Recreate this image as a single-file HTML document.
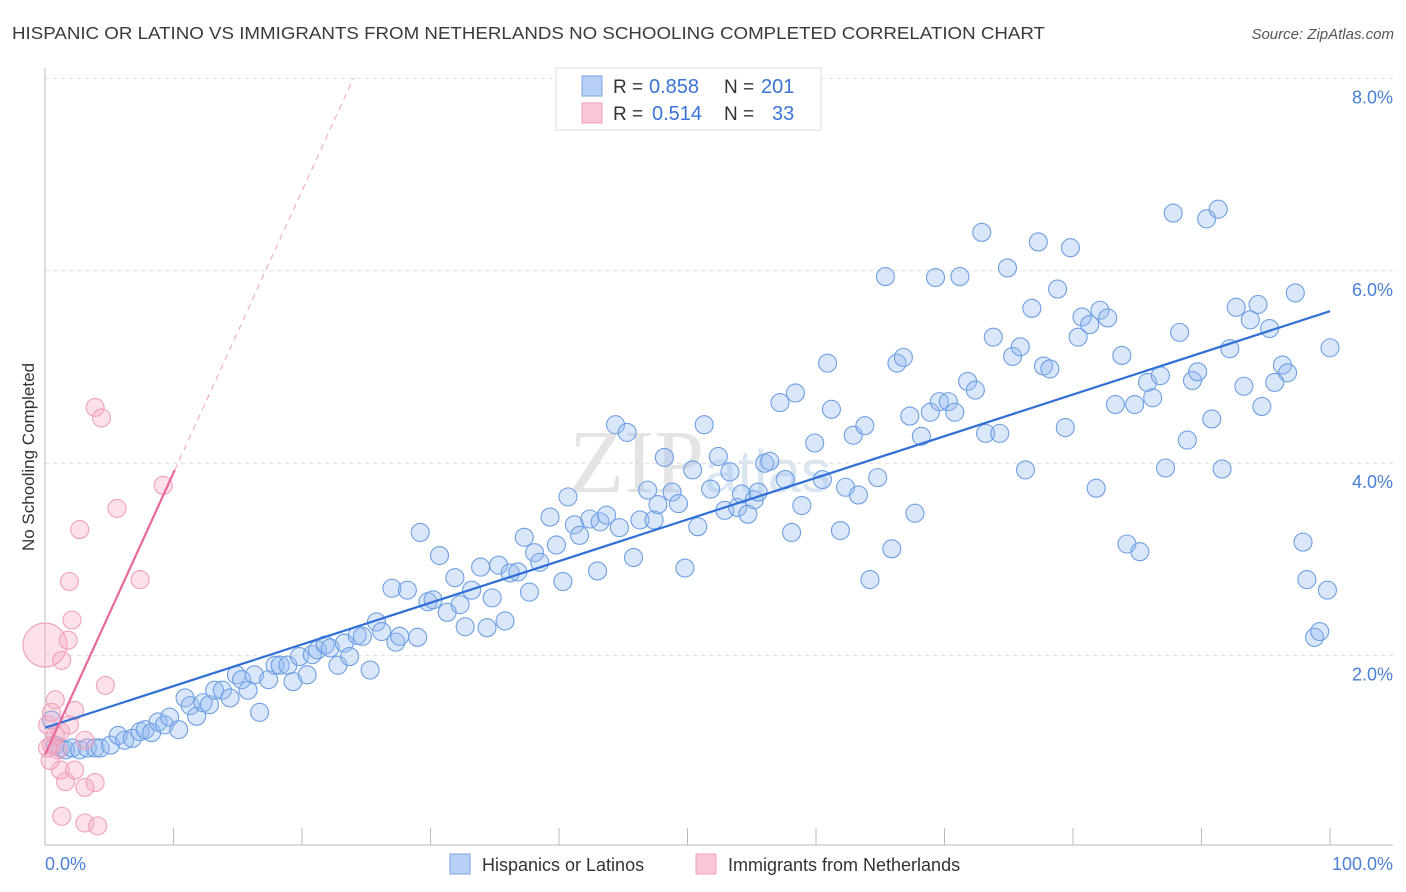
<!DOCTYPE html>
<html><head><meta charset="utf-8">
<style>
body{margin:0;background:#fff;font-family:"Liberation Sans",sans-serif;}
svg{display:block}
</style></head>
<body>
<svg id="chart" width="1406" height="892" xmlns="http://www.w3.org/2000/svg">
<text x="12" y="39" font-size="17.5" fill="#3a3a3a" textLength="1033" lengthAdjust="spacingAndGlyphs" font-family="Liberation Sans, sans-serif">HISPANIC OR LATINO VS IMMIGRANTS FROM NETHERLANDS NO SCHOOLING COMPLETED CORRELATION CHART</text>
<text x="1394" y="39" font-size="15" fill="#555" font-style="italic" text-anchor="end">Source: ZipAtlas.com</text>
<text x="700" y="492" font-size="90" fill="#e4e4e4" text-anchor="middle" font-family="Liberation Serif, serif">ZIP<tspan font-size="60" font-family="Liberation Sans, sans-serif" fill="#dbe6f3">atlas</tspan></text>
<g id="grid"></g>
<g id="axes"></g>
<g id="pts"></g>
<g id="lines"></g>
<text transform="translate(34,457) rotate(-90)" font-size="17" fill="#333" text-anchor="middle">No Schooling Completed</text>
<text x="45" y="870" font-size="18" fill="#4a7fd4">0.0%</text>
<text x="1393" y="870" font-size="18" fill="#4a7fd4" text-anchor="end">100.0%</text>
<g>
<rect x="556" y="68" width="265" height="62" fill="#fff" stroke="#ddd"/>
<rect x="582" y="76" width="20" height="20" fill="#b9d0f5" stroke="#7aa3e6"/>
<rect x="582" y="103" width="20" height="20" fill="#f9c6d6" stroke="#f0a0bb"/>
<text x="613" y="93" font-size="19" fill="#333">R =</text>
<text x="649" y="93" font-size="20" fill="#3a74d6">0.858</text>
<text x="724" y="93" font-size="19" fill="#333">N =</text>
<text x="761" y="93" font-size="20" fill="#3a74d6">201</text>
<text x="613" y="120" font-size="19" fill="#333">R =</text>
<text x="652" y="120" font-size="20" fill="#3a74d6">0.514</text>
<text x="724" y="120" font-size="19" fill="#333">N =</text>
<text x="772" y="120" font-size="20" fill="#3a74d6">33</text>
</g>
<g>
<rect x="450" y="854" width="20" height="20" fill="#b9d0f5" stroke="#7aa3e6"/>
<text x="482" y="871" font-size="18" fill="#333">Hispanics or Latinos</text>
<rect x="696" y="854" width="20" height="20" fill="#f9c6d6" stroke="#f0a0bb"/>
<text x="728" y="871" font-size="18" fill="#333">Immigrants from Netherlands</text>
</g>
</svg>
<script>
const blueX=[0.5,0.8,1.2,1.6,2.1,2.7,3.3,3.9,4.3,5.1,5.7,6.2,6.8,7.4,7.8,8.3,8.8,9.3,9.7,10.4,10.9,11.3,11.8,12.3,12.8,13.2,13.8,14.4,14.9,15.3,15.8,16.3,16.7,17.4,17.9,18.3,18.9,19.3,19.8,20.4,20.8,21.2,21.8,22.2,22.8,23.3,23.7,24.3,24.7,25.3,25.8,26.2,27.0,27.3,27.6,28.2,29.0,29.2,29.8,30.2,30.7,31.3,31.9,32.3,32.7,33.2,33.9,34.4,34.8,35.3,35.8,36.2,36.8,37.3,37.7,38.1,38.5,39.3,39.8,40.3,40.7,41.2,41.6,42.4,43.0,43.2,43.7,44.4,44.7,45.3,45.8,46.3,46.9,47.4,47.7,48.2,48.8,49.3,49.8,50.4,50.8,51.3,51.8,52.4,52.9,53.3,53.9,54.2,54.7,55.2,55.5,56.0,56.4,57.2,57.6,58.1,58.4,58.9,59.9,60.5,60.9,61.2,61.9,62.3,62.9,63.3,63.8,64.2,64.8,65.4,65.9,66.3,66.8,67.3,67.7,68.2,68.9,69.3,69.6,70.3,70.8,71.2,71.8,72.4,72.9,73.2,73.8,74.3,74.9,75.3,75.9,76.3,76.8,77.3,77.7,78.2,78.8,79.4,79.8,80.4,80.7,81.3,81.8,82.1,82.7,83.3,83.8,84.2,84.8,85.2,85.8,86.2,86.8,87.2,87.8,88.3,88.9,89.3,89.7,90.4,90.8,91.3,91.6,92.2,92.7,93.3,93.8,94.4,94.7,95.3,95.7,96.3,96.7,97.3,97.9,98.2,98.8,99.2,99.8,100];
const blueY=[1.33,1.07,1.04,1.02,1.04,1.02,1.04,1.04,1.04,1.07,1.17,1.12,1.14,1.21,1.23,1.20,1.31,1.28,1.36,1.23,1.56,1.48,1.37,1.51,1.49,1.64,1.64,1.56,1.80,1.75,1.64,1.80,1.41,1.75,1.90,1.90,1.90,1.73,1.99,1.80,2.01,2.06,2.11,2.08,1.90,2.13,1.99,2.21,2.20,1.85,2.35,2.25,2.70,2.14,2.20,2.68,2.19,3.28,2.56,2.58,3.04,2.45,2.81,2.53,2.30,2.68,2.92,2.29,2.60,2.94,2.36,2.86,2.87,3.23,2.66,3.07,2.97,3.44,3.15,2.77,3.65,3.36,3.25,3.42,2.88,3.39,3.46,4.40,3.33,4.32,3.02,3.41,3.72,3.41,3.57,4.06,3.70,3.58,2.91,3.93,3.34,4.40,3.73,4.07,3.51,3.91,3.54,3.68,3.47,3.62,3.70,4.00,4.02,4.63,3.83,3.28,4.73,3.56,4.21,3.83,5.04,4.56,3.30,3.75,4.29,3.67,4.39,2.79,3.85,5.94,3.11,5.04,5.10,4.49,3.48,4.28,4.53,5.93,4.64,4.64,4.53,5.94,4.85,4.76,6.40,4.31,5.31,4.31,6.03,5.11,5.21,3.93,5.61,6.30,5.01,4.98,5.81,4.37,6.24,5.31,5.52,5.44,3.74,5.59,5.51,4.61,5.12,3.16,4.61,3.08,4.84,4.68,4.91,3.95,6.60,5.36,4.24,4.86,4.95,6.54,4.46,6.64,3.94,5.19,5.62,4.80,5.49,5.65,4.59,5.40,4.84,5.02,4.94,5.77,3.18,2.79,2.19,2.25,2.68,5.20];
const pinkX=[0,0.5,0.2,0.8,0.5,1.0,1.2,0.8,1.3,1.8,2.1,1.9,2.7,3.9,4.4,5.6,7.4,9.2,4.7,2.3,1.9,3.1,1.2,2.3,1.6,3.9,3.1,1.3,3.1,4.1,0.4,0.2];
const pinkY=[2.11,1.41,1.28,1.17,1.07,1.02,1.21,1.54,1.95,2.16,2.37,2.77,3.31,4.58,4.47,3.53,2.79,3.77,1.69,1.43,1.28,1.12,0.81,0.81,0.69,0.68,0.63,0.33,0.26,0.23,0.91,1.04];
const pinkR=[22,9,9,9,9,9,9,9,9,9,9,9,9,9,9,9,9,9,9,9,9,9,9,9,9,9,9,9,9,9,9,9];
const yTicks=[2,4,6,8];
const yTickLabels=["2.0%","4.0%","6.0%","8.0%"];
const xTicks=[0,10,20,30,40,50,60,70,80,90,100];
const blueLine=[1.25,5.58];   // y at x=0 and x=100
const pinkLine=[0.97,0.293];  // intercept, slope per %
const NS="http://www.w3.org/2000/svg";
const X=v=>45+v*12.85, Y=v=>848-v*96.2;
function mk(tag,attrs,parent){const e=document.createElementNS(NS,tag);for(const k in attrs)e.setAttribute(k,attrs[k]);parent.appendChild(e);return e;}
const grid=document.getElementById('grid'),axes=document.getElementById('axes'),pts=document.getElementById('pts'),lines=document.getElementById('lines');
yTicks.forEach((t,i)=>{
 const l=mk('line',{x1:45,x2:1393,y1:Y(t),y2:Y(t),stroke:'#ddd','stroke-dasharray':'4,4'},grid);
 
 
 const tx=mk('text',{x:1393,y:Y(t)+25,'font-size':18,fill:'#4a7fd4','text-anchor':'end'},grid);
 tx.textContent=yTickLabels[i];
 
 
});
const xa=mk('line',{x1:45,x2:1393,y1:845,y2:845,stroke:'#bbb'},axes);


const ya=mk('line',{x1:45,x2:45,y1:68,y2:845,stroke:'#bbb'},axes);


xTicks.forEach(t=>{
 const l=mk('line',{x1:X(t),x2:X(t),y1:828,y2:845,stroke:'#bbb'},axes);
 
 
});
blueX.forEach((v,i)=>{
 const c=mk('circle',{cx:X(v),cy:Y(blueY[i]),r:9,fill:'rgba(150,185,240,0.35)',stroke:'#6e9fe3','stroke-width':1.1},pts);
 
 
});
pinkX.forEach((v,i)=>{
 const c=mk('circle',{cx:X(v),cy:Y(pinkY[i]),r:pinkR[i],fill:'rgba(245,170,195,0.35)',stroke:'#f0a0bb','stroke-width':1.1},pts);
 
 
});
const bl=mk('line',{x1:X(0),y1:Y(blueLine[0]),x2:X(100),y2:Y(blueLine[1]),stroke:'#2f6fd6','stroke-width':2.2},lines);


const pEnd=10.1, pTop=(8.0-pinkLine[0])/pinkLine[1];
const pl=mk('line',{x1:X(0),y1:Y(pinkLine[0]),x2:X(pEnd),y2:Y(pinkLine[0]+pinkLine[1]*pEnd),stroke:'#e8689a','stroke-width':2.2},lines);


const pd=mk('line',{x1:X(pEnd),y1:Y(pinkLine[0]+pinkLine[1]*pEnd),x2:X(pTop),y2:Y(8.0),stroke:'#f0a0bb','stroke-width':1,'stroke-dasharray':'6,5'},lines);


</script>
</body></html>
